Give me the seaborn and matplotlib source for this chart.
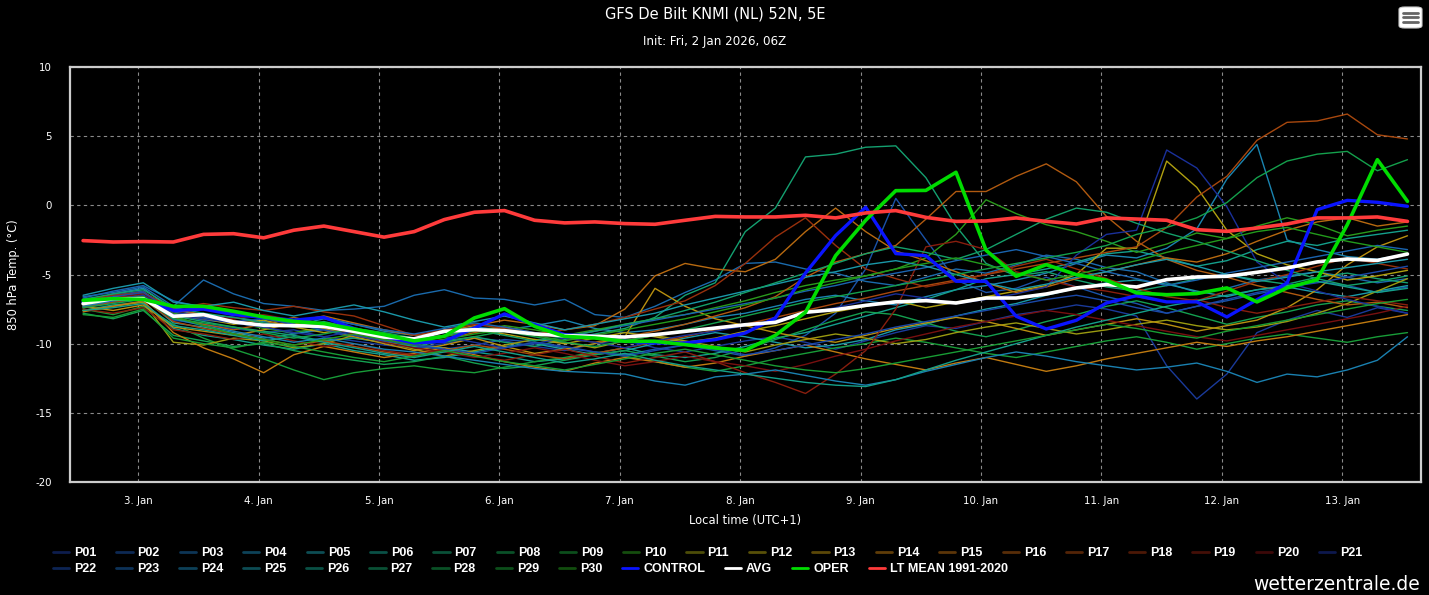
import matplotlib
matplotlib.use("Agg")
import matplotlib.pyplot as plt
import matplotlib.colors as mcolors
from matplotlib.lines import Line2D
from matplotlib.patches import FancyBboxPatch
import numpy as np
import pandas as pd
import seaborn as sns

# ---------------- data ----------------
lead_hours = list(range(6, 276, 6))          # 45 steps after 2 Jan 2026 06Z (+6h .. +270h)
day_ticks = [0, 1, 2, 3, 4, 5, 6, 7, 8, 9, 10]
day_labels = ["3. Jan", "4. Jan", "5. Jan", "6. Jan", "7. Jan", "8. Jan",
              "9. Jan", "10. Jan", "11. Jan", "12. Jan", "13. Jan"]
y_ticks = [-20, -15, -10, -5, 0, 5, 10]

lt_mean = [-2.55, -2.65, -2.62, -2.65, -2.1, -2.05, -2.35, -1.8, -1.5, -1.9,
           -2.3, -1.9, -1.03, -0.5, -0.38, -1.08, -1.27, -1.2, -1.32, -1.37,
           -1.08, -0.8, -0.84, -0.84, -0.72, -0.91, -0.55, -0.38, -0.87, -1.16,
           -1.13, -0.91, -1.16, -1.35, -0.91, -0.99, -1.08, -1.76, -1.88, -1.64,
           -1.35, -0.91, -0.91, -0.84, -1.16]
avg = [-7.11, -6.75, -6.75, -8.02, -7.9, -8.43, -8.67, -8.7, -8.75, -9.11,
       -9.52, -9.65, -9.11, -8.99, -9.06, -9.3, -9.42, -9.47, -9.52, -9.35,
       -9.11, -8.87, -8.63, -8.46, -7.73, -7.54, -7.23, -6.98, -6.89, -7.06,
       -6.7, -6.7, -6.41, -5.97, -5.73, -5.9, -5.37, -5.18, -5.13, -4.84,
       -4.53, -4.09, -3.88, -3.98, -3.52]
control = [-7.0, -6.8, -6.8, -7.6, -7.5, -7.9, -8.1, -8.3, -8.1, -8.9,
           -9.5, -9.95, -9.83, -8.87, -7.85, -8.63, -9.35, -9.47, -9.83, -9.95,
           -9.95, -9.71, -9.23, -8.14, -4.89, -2.19, -0.14, -3.49, -3.64, -5.49,
           -5.49, -8.02, -8.94, -8.31, -7.06, -6.53, -6.98, -6.98, -8.07, -6.82,
           -5.61, -0.31, 0.36, 0.22, -0.07]
oper = [-6.87, -6.75, -6.8, -7.3, -7.3, -7.66, -8.07, -8.39, -8.55, -8.94,
        -9.35, -9.8, -9.47, -8.14, -7.47, -8.75, -9.47, -9.59, -9.83, -9.83,
        -10.07, -10.31, -10.48, -9.4, -7.73, -3.64, -1.08, 1.06, 1.08, 2.39,
        -3.25, -5.13, -4.29, -5.01, -5.42, -6.33, -6.46, -6.38, -5.97, -6.98,
        -5.97, -5.37, -1.4, 3.3, 0.29]

p01 = [-7.2, -6.9, -6.6, -8.3, -8.6, -8.9, -9.2, -9.0, -9.5, -9.8,
       -10.1, -10.3, -10.0, -9.6, -9.8, -10.2, -10.5, -10.0, -9.7, -10.3,
       -10.6, -10.2, -9.8, -9.5, -9.9, -10.4, -9.8, -9.2, -8.7, -8.9,
       -8.4, -7.9, -7.6, -7.2, -7.5, -8.0, -11.6, -14.0, -12.2, -9.2,
       -8.3, -7.6, -8.1, -7.4, -7.8]
p02 = [-6.9, -6.5, -6.2, -7.9, -8.3, -8.5, -8.8, -9.3, -9.0, -9.6,
       -9.9, -10.2, -10.4, -10.1, -9.7, -9.9, -10.3, -10.6, -10.8, -10.4,
       -10.1, -10.5, -10.9, -10.3, -9.4, -7.8, -4.6, 0.5, -2.5, -5.4,
       -6.3, -6.0, -5.2, -5.9, -6.6, -7.1, -7.8, -7.3, -6.9, -6.4,
       -6.0, -5.5, -5.8, -6.3, -5.9]
p03 = [-6.6, -6.3, -5.9, -7.3, -5.4, -6.4, -7.1, -7.3, -7.6, -7.5,
       -7.3, -6.5, -6.1, -6.7, -6.8, -7.2, -6.8, -7.9, -8.1, -7.3,
       -6.3, -5.4, -4.2, -4.1, -4.6, -4.9, -5.5, -5.8, -5.2, -4.6,
       -4.9, -4.3, -3.6, -3.9, -4.5, -4.8, -5.6, -6.3, -6.0, -5.4,
       -5.1, -4.8, -5.2, -5.6, -5.3]
p04 = [-7.0, -6.4, -6.0, -7.6, -7.9, -8.1, -8.4, -8.7, -8.2, -8.6,
       -9.1, -9.4, -9.2, -8.8, -9.0, -8.7, -8.3, -8.9, -9.2, -9.0,
       -8.6, -8.1, -7.8, -7.3, -6.8, -6.5, -6.9, -7.2, -6.6, -6.1,
       -5.8, -5.4, -4.9, -4.2, -3.6, -3.8, -3.1, -1.7, 1.9, 4.4,
       -2.5, -3.2, -3.7, -3.9, -3.5]
p05 = [-7.4, -7.0, -6.7, -8.5, -8.8, -9.2, -9.6, -9.3, -8.9, -9.2,
       -9.7, -10.1, -10.3, -10.6, -10.2, -10.0, -10.4, -10.8, -10.5, -10.0,
       -9.6, -9.2, -9.5, -9.9, -10.3, -10.1, -9.7, -9.0, -8.6, -8.0,
       -7.5, -7.1, -6.5, -6.0, -5.6, -5.4, -5.7, -6.2, -6.6, -6.1,
       -5.9, -6.3, -6.6, -6.2, -5.8]
p06 = [-7.6, -7.2, -7.0, -8.9, -9.4, -9.7, -10.1, -10.4, -10.0, -10.5,
       -10.8, -11.2, -11.0, -10.6, -10.9, -11.3, -11.1, -10.7, -10.3, -10.8,
       -11.0, -10.7, -10.2, -9.6, -9.2, -8.6, -8.0, -7.4, -6.8, -6.1,
       -5.3, -5.0, -4.6, -4.1, -3.5, -3.3, -3.8, -4.4, -4.0, -3.2,
       -2.6, -2.9, -2.4, -2.1, -1.8]
p07 = [-7.3, -6.9, -6.6, -8.0, -8.4, -8.8, -9.1, -9.4, -9.8, -9.6,
       -9.9, -10.2, -9.8, -9.5, -9.9, -10.2, -9.7, -9.3, -8.9, -8.1,
       -6.5, -5.6, -1.9, -0.2, 3.5, 3.7, 4.2, 4.3, 2.0, -1.5,
       -4.2, -5.1, -4.8, -5.4, -5.9, -6.2, -5.8, -5.3, -5.0, -5.4,
       -5.7, -5.2, -4.9, -5.3, -5.6]
p08 = [-7.8, -8.2, -7.6, -9.4, -9.8, -10.2, -10.0, -10.5, -10.9, -11.2,
       -11.5, -11.3, -10.9, -11.4, -11.8, -11.6, -11.2, -10.8, -10.5, -10.9,
       -11.3, -11.0, -10.4, -9.7, -9.0, -8.3, -7.7, -7.9, -8.5, -9.1,
       -9.5, -9.0, -8.4, -7.9, -7.3, -6.9, -7.4, -8.0, -8.6, -8.1,
       -7.7, -7.2, -6.9, -7.3, -7.6]
p09 = [-7.5, -7.9, -7.3, -8.6, -9.6, -10.4, -11.1, -11.9, -12.6, -12.1,
       -11.8, -11.6, -11.9, -12.1, -11.7, -11.3, -11.0, -10.6, -10.9, -11.3,
       -11.7, -12.0, -11.6, -11.1, -10.7, -10.3, -10.0, -9.6, -9.9, -10.3,
       -10.7, -11.0, -10.6, -10.2, -9.8, -9.5, -9.9, -10.4, -10.0, -9.6,
       -9.3, -9.6, -9.9, -9.5, -9.2]
p10 = [-7.1, -6.8, -6.4, -7.8, -8.1, -8.4, -8.9, -9.2, -8.8, -9.3,
       -9.6, -9.9, -9.5, -9.1, -8.7, -9.0, -9.4, -9.0, -8.6, -8.2,
       -7.9, -7.4, -6.9, -6.3, -5.8, -5.4, -5.1, -4.6, -3.8, -2.1,
       0.4, -0.6, -1.4, -1.9, -2.6, -3.4, -2.8, -2.0, -2.4, -1.5,
       -0.9, -1.4, -2.2, -1.8, -1.5]
p11 = [-7.6, -7.3, -7.0, -9.9, -10.1, -9.6, -9.8, -10.3, -10.0, -9.4,
       -9.8, -10.4, -10.9, -10.5, -10.1, -9.7, -9.9, -10.3, -9.8, -9.4,
       -9.8, -10.2, -10.6, -10.1, -9.7, -9.3, -9.6, -10.0, -9.7, -9.2,
       -8.8, -8.5, -8.9, -9.3, -9.0, -8.6, -8.3, -8.7, -9.0, -8.8,
       -8.4, -7.8, -7.1, -6.2, -5.3]
p12 = [-7.0, -6.7, -6.9, -7.9, -8.2, -8.6, -8.3, -8.8, -9.2, -8.9,
       -9.3, -9.7, -9.4, -9.0, -9.3, -9.7, -10.0, -9.6, -9.2, -9.5,
       -9.9, -9.6, -9.1, -8.7, -8.2, -7.7, -7.3, -6.9, -7.4, -7.0,
       -6.6, -6.2, -5.8, -5.0, -3.1, -3.1, 3.2, 1.3, -1.8, -3.5,
       -4.3, -4.8, -5.4, -5.1, -4.7]
p13 = [-7.3, -7.6, -7.2, -8.8, -9.1, -9.4, -9.0, -8.5, -8.9, -9.5,
       -10.0, -10.5, -10.1, -9.6, -10.2, -10.7, -10.4, -10.0, -9.5, -6.0,
       -7.3, -8.2, -8.7, -9.2, -9.6, -9.9, -9.4, -8.9, -8.5, -8.1,
       -8.4, -8.9, -9.4, -9.0, -8.6, -8.2, -8.6, -9.1, -8.7, -8.3,
       -7.4, -6.1, -4.3, -3.0, -2.2]
p14 = [-7.7, -7.3, -6.9, -9.2, -10.3, -11.1, -12.1, -10.8, -10.2, -10.6,
       -11.0, -10.7, -10.3, -10.8, -11.3, -11.7, -12.0, -11.4, -11.0, -11.3,
       -11.7, -11.4, -10.9, -10.5, -10.1, -10.6, -11.1, -11.5, -11.9, -11.4,
       -11.0, -11.5, -12.0, -11.6, -11.1, -10.7, -10.3, -9.9, -10.2, -9.8,
       -9.5, -9.1, -8.7, -8.3, -7.9]
p15 = [-6.9, -6.6, -6.3, -7.5, -7.9, -8.3, -8.7, -8.4, -8.0, -8.5,
       -9.0, -9.4, -9.1, -8.7, -8.3, -8.6, -9.0, -8.7, -7.5, -5.1,
       -4.2, -4.6, -4.8, -3.9, -1.9, -0.2, -1.9, -3.3, -4.0, -4.8,
       -5.6, -6.3, -5.9, -5.3, -4.8, -4.3, -3.8, -4.1, -3.5, -2.6,
       -1.8, -1.2, -0.9, -1.5, -1.2]
p16 = [-7.2, -6.9, -6.5, -8.1, -8.6, -9.0, -8.6, -8.1, -8.6, -9.1,
       -9.6, -10.0, -9.7, -9.2, -8.8, -9.2, -9.6, -9.9, -9.5, -9.1,
       -8.6, -8.0, -7.4, -6.6, -5.2, -4.1, -3.5, -2.9, -1.0, 1.0,
       1.0, 2.1, 3.0, 1.7, -0.8, -2.6, -3.9, -4.7, -5.2, -5.8,
       -6.3, -6.8, -7.2, -7.0, -7.4]
p17 = [-7.4, -7.0, -6.8, -8.4, -8.9, -9.3, -9.7, -10.1, -9.8, -10.2,
       -10.6, -10.9, -10.5, -10.1, -10.4, -10.8, -11.1, -10.7, -10.3, -9.9,
       -9.5, -9.0, -8.6, -8.1, -7.6, -7.1, -6.7, -6.2, -5.8, -5.4,
       -5.0, -4.6, -4.2, -3.8, -3.4, -3.0, -1.6, 0.6, 2.1, 4.7,
       6.0, 6.1, 6.6, 5.1, 4.8]
p18 = [-6.8, -6.5, -6.3, -7.5, -7.1, -7.4, -7.6, -7.3, -7.7, -8.0,
       -8.7, -9.4, -9.0, -8.6, -8.9, -9.3, -9.0, -8.6, -8.1, -7.5,
       -6.9, -5.8, -4.2, -2.3, -0.9, -2.9, -4.6, -5.3, -5.9, -5.5,
       -5.0, -4.4, -3.9, -4.6, -5.3, -6.0, -6.6, -6.9, -6.2, -5.5,
       -5.0, -4.4, -3.8, -4.2, -4.6]
p19 = [-7.5, -7.8, -7.4, -9.0, -9.3, -9.7, -9.3, -9.8, -10.2, -10.0,
       -10.5, -10.8, -10.4, -10.9, -11.2, -10.8, -10.4, -10.9, -11.4, -11.0,
       -10.6, -11.3, -12.1, -12.8, -13.6, -12.2, -10.5, -7.5, -3.0, -2.6,
       -3.2, -4.8, -5.4, -5.9, -6.2, -6.6, -7.0, -6.8, -7.4, -7.8,
       -7.4, -7.0, -6.6, -6.9, -7.2]
p20 = [-7.1, -6.7, -6.4, -7.7, -8.0, -8.2, -7.9, -8.3, -8.8, -9.3,
       -9.9, -10.3, -10.6, -11.0, -10.7, -10.3, -10.7, -11.2, -11.6, -11.3,
       -10.9, -11.3, -11.6, -12.0, -11.5, -10.9, -10.4, -9.8, -9.3, -8.8,
       -8.4, -8.0, -7.6, -7.9, -8.3, -8.7, -9.1, -9.5, -9.8, -9.4,
       -9.0, -8.6, -8.2, -7.8, -7.3]
p21 = [-7.2, -6.8, -6.5, -7.9, -8.2, -8.5, -8.8, -9.2, -9.5, -9.1,
       -9.4, -9.8, -9.5, -9.9, -10.3, -10.0, -9.6, -9.9, -10.3, -9.8,
       -9.4, -9.1, -8.7, -8.3, -7.8, -7.4, -6.9, -6.4, -6.7, -7.1,
       -6.8, -6.4, -5.9, -3.6, -2.1, -1.8, 4.0, 2.7, -0.1, -4.1,
       -5.6, -6.2, -6.8, -7.3, -7.8]
p22 = [-7.0, -6.6, -6.3, -7.7, -8.1, -8.4, -8.2, -8.6, -9.0, -9.4,
       -9.8, -10.1, -10.4, -10.7, -10.3, -9.9, -10.2, -10.6, -10.9, -10.5,
       -10.1, -10.4, -10.8, -10.5, -10.1, -9.7, -9.3, -8.8, -8.4, -8.0,
       -7.6, -7.2, -6.8, -6.5, -6.9, -7.4, -7.8, -7.3, -6.8, -6.3,
       -5.9, -5.6, -5.2, -4.8, -4.4]
p23 = [-6.7, -6.2, -5.8, -6.9, -7.4, -7.8, -8.2, -8.5, -8.1, -8.6,
       -9.0, -9.3, -8.9, -8.5, -8.8, -9.2, -9.5, -9.1, -8.7, -8.3,
       -7.9, -7.5, -7.1, -6.7, -6.2, -5.8, -5.3, -4.9, -4.5, -4.0,
       -3.6, -3.2, -3.7, -4.2, -4.8, -5.3, -5.8, -5.4, -4.9, -4.5,
       -4.1, -3.7, -3.3, -2.9, -3.2]
p24 = [-7.3, -6.9, -6.6, -8.2, -8.7, -9.1, -9.5, -9.9, -9.6, -10.0,
       -10.4, -10.6, -10.9, -11.2, -11.5, -11.8, -12.0, -12.1, -12.2, -12.7,
       -13.0, -12.4, -12.2, -11.9, -12.3, -12.7, -13.0, -12.6, -12.0, -11.5,
       -11.0, -10.6, -10.9, -11.3, -11.6, -11.9, -11.7, -11.4, -12.0, -12.8,
       -12.2, -12.4, -11.9, -11.2, -9.5]
p25 = [-6.5, -6.0, -5.6, -7.0, -7.3, -7.0, -7.6, -8.0, -7.6, -7.2,
       -7.7, -8.3, -8.8, -8.4, -8.0, -8.5, -9.0, -8.6, -8.2, -7.8,
       -7.2, -6.7, -6.2, -5.7, -5.2, -4.8, -4.3, -4.0, -4.4, -5.0,
       -5.6, -6.1, -5.7, -5.2, -4.8, -4.3, -3.9, -4.4, -5.0, -5.5,
       -5.2, -4.8, -4.5, -4.2, -3.9]
p26 = [-7.6, -7.4, -7.1, -8.7, -9.0, -9.4, -9.8, -9.5, -9.9, -10.3,
       -10.7, -11.0, -10.6, -10.2, -10.6, -11.0, -11.4, -11.1, -10.7, -11.2,
       -11.6, -11.9, -12.2, -12.5, -12.8, -13.0, -13.1, -12.6, -11.9, -11.2,
       -10.6, -10.0, -9.4, -8.8, -8.3, -7.8, -7.3, -6.9, -6.5, -6.1,
       -5.8, -5.5, -5.9, -6.3, -6.0]
p27 = [-6.8, -6.4, -6.1, -7.4, -7.8, -8.1, -8.5, -8.8, -8.4, -8.9,
       -9.3, -9.7, -9.4, -9.0, -9.4, -9.8, -9.5, -9.1, -8.6, -8.2,
       -7.6, -7.0, -6.3, -5.6, -4.9, -4.2, -3.5, -3.0, -3.4, -3.9,
       -3.2, -2.1, -1.0, -0.2, -0.5, -1.3, -2.0, -2.6, -3.3, -4.0,
       -4.7, -5.3, -5.8, -5.5, -5.1]
p28 = [-7.4, -7.1, -6.8, -8.2, -8.5, -8.8, -9.2, -9.6, -9.3, -8.9,
       -9.2, -9.6, -9.9, -9.5, -9.1, -9.5, -9.9, -10.2, -9.8, -9.4,
       -9.0, -8.5, -8.0, -7.5, -7.0, -6.6, -6.2, -5.8, -5.4, -5.0,
       -4.6, -4.2, -3.8, -3.4, -2.9, -2.1, -1.6, -0.9, 0.2, 2.0,
       3.2, 3.7, 3.9, 2.5, 3.3]
p29 = [-7.9, -8.1, -7.5, -9.6, -10.0, -10.3, -9.9, -10.2, -10.6, -11.0,
       -11.3, -10.9, -10.5, -10.9, -11.3, -11.6, -11.9, -11.5, -11.1, -10.7,
       -10.4, -10.8, -11.2, -11.6, -11.9, -12.1, -11.8, -11.4, -11.0, -10.6,
       -10.2, -9.8, -9.4, -9.0, -8.6, -8.9, -9.3, -9.6, -9.1, -8.7,
       -8.3, -7.9, -7.5, -7.1, -6.8]
p30 = [-7.2, -6.8, -6.6, -8.0, -8.7, -9.3, -9.7, -10.1, -9.7, -9.3,
       -9.7, -10.1, -9.7, -9.3, -9.0, -9.4, -9.8, -9.4, -9.0, -8.6,
       -8.2, -7.7, -7.2, -6.7, -6.1, -5.6, -5.1, -4.6, -4.2, -3.8,
       -4.3, -4.9, -5.4, -5.0, -4.5, -4.0, -3.4, -2.9, -2.4, -1.9,
       -1.6, -2.1, -2.6, -3.0, -3.4]

members = [p01, p02, p03, p04, p05, p06, p07, p08, p09, p10,
           p11, p12, p13, p14, p15, p16, p17, p18, p19, p20,
           p21, p22, p23, p24, p25, p26, p27, p28, p29, p30]
member_names = ["P%02d" % (i + 1) for i in range(len(members))]
member_colors = ["#1a3a9a", "#1a52a8", "#1a6aac", "#1a84b0", "#1a9aa8",
                 "#14a08c", "#14a070", "#14a050", "#189c38", "#2a9a1c",
                 "#9a9a10", "#b0a010", "#b89010", "#c07a10", "#b86a10",
                 "#b05a10", "#a8480e", "#98300c", "#881e0e", "#781010",
                 "#1a309a", "#1a48a8", "#1a64b0", "#1a80b0", "#1a98a8",
                 "#14a08a", "#14a06a", "#14a04c", "#189c34", "#229a1c"]

# x positions: days relative to 3 Jan 00:00 local time (UTC+1), init 06Z
x_days = [(h + 6 + 1 - 24) / 24.0 for h in lead_hours]

# ---------------- figure ----------------
sns.set_theme(style="dark")
plt.rcParams["font.family"] = ["DejaVu Sans"]
W, H = 1429, 595
fig = plt.figure(figsize=(W / 100, H / 100), dpi=100, facecolor="black")
ax = fig.add_axes([70 / W, (H - 482) / H, (1421 - 70) / W, (482 - 67) / H])
ax.set_facecolor("black")

long = []
for name, vals in zip(member_names, members):
    long.append(pd.DataFrame({"x": x_days, "y": vals, "series": name}))
df = pd.concat(long, ignore_index=True)
sns.lineplot(data=df, x="x", y="y", hue="series", palette=dict(zip(member_names, member_colors)),
             linewidth=1.0, legend=False, ax=ax, estimator=None, sort=False)

sns.lineplot(x=x_days, y=control, color="#0a14ff", linewidth=2.4, ax=ax, legend=False)
sns.lineplot(x=x_days, y=avg, color="white", linewidth=2.6, ax=ax, legend=False)
sns.lineplot(x=x_days, y=oper, color="#00dd00", linewidth=2.6, ax=ax, legend=False)
sns.lineplot(x=x_days, y=lt_mean, color="#ff3b3b", linewidth=2.6, ax=ax, legend=False)

ax.set_xlim(-0.567, 10.654)
ax.set_ylim(-20, 10)
ax.set_xticks(day_ticks)
ax.set_xticklabels(day_labels)
ax.set_yticks(y_ticks)
ax.set_yticklabels([str(v) for v in y_ticks])
ax.tick_params(axis="both", colors="white", labelsize=7.4, length=0)
ax.tick_params(axis="x", length=7, width=0.9, color="#cccccc", pad=3, direction="out")
ax.tick_params(axis="y", pad=13)
ax.grid(True, color="#8a8a8a", linestyle=(0, (3, 3)), linewidth=0.8)
for s in ax.spines.values():
    s.set_visible(True)
    s.set_color("#cccccc")
    s.set_linewidth(1.6)
ax.set_xlabel("Local time (UTC+1)", color="white", fontsize=8.3, labelpad=6)
ax.set_ylabel("850 hPa Temp. (°C)", color="white", fontsize=8.3, labelpad=11)

fig.text(715 / W, 1 - 14 / H, "GFS De Bilt KNMI (NL) 52N, 5E", color="white",
         fontsize=10.5, ha="center", va="center")
fig.text(715 / W, 1 - 42 / H, "Init: Fri, 2 Jan 2026, 06Z", color="white",
         fontsize=8.6, ha="center", va="center")
fig.text(1420 / W, 1 - 584 / H, "wetterzentrale.de", color="white",
         fontsize=13.5, ha="right", va="center")

# menu icon
fig.patches.append(FancyBboxPatch((1399 / W, 1 - 28 / H), 23 / W, 21 / H,
                                  boxstyle="round,pad=0,rounding_size=0.004",
                                  transform=fig.transFigure, facecolor="white",
                                  edgecolor="#cccccc", linewidth=0.8))
for yy in (12.5, 17.0, 22.0):
    fig.lines.append(Line2D([1403 / W, 1418 / W], [1 - yy / H, 1 - yy / H],
                            transform=fig.transFigure, color="#666666", linewidth=2.0))

# legend
def dim(c):
    r, g, b = mcolors.to_rgb(c)
    return (r * 0.5, g * 0.5, b * 0.5)

h1 = [Line2D([], [], color=dim(c), linewidth=2) for c in member_colors[:21]]
l1 = member_names[:21]
h2 = [Line2D([], [], color=dim(c), linewidth=2) for c in member_colors[21:]]
h2 += [Line2D([], [], color="#0a14ff", linewidth=2),
       Line2D([], [], color="white", linewidth=2),
       Line2D([], [], color="#00dd00", linewidth=2),
       Line2D([], [], color="#ff3b3b", linewidth=2)]
l2 = member_names[21:] + ["CONTROL", "AVG", "OPER", "LT MEAN 1991-2020"]
prop = {"family": "Liberation Sans", "weight": "bold", "size": 9}
common = dict(loc="center left", frameon=False, prop=prop, handlelength=1.3,
              handletextpad=0.4, columnspacing=1.58, borderpad=0, borderaxespad=0,
              labelcolor="white")
leg1 = fig.legend(h1, l1, ncol=21, bbox_to_anchor=(53 / W, 1 - 553 / H), **common)
leg2 = fig.legend(h2, l2, ncol=len(l2), bbox_to_anchor=(53 / W, 1 - 569 / H), **common)

fig.savefig("out.png", dpi=100, facecolor="black")
